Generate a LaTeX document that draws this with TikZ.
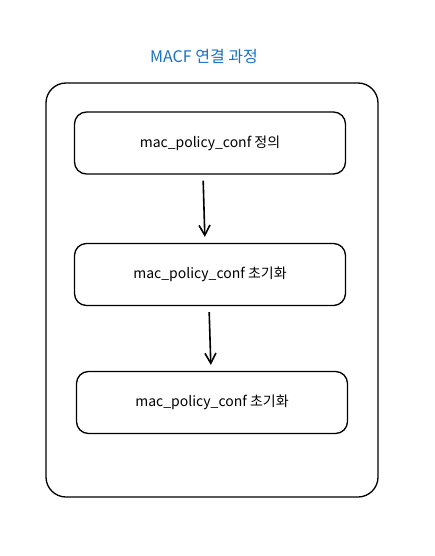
\documentclass[tikz,border=0pt]{standalone}
\usepackage{fontspec}
\newfontfamily\kr{Noto Sans CJK KR}
\usetikzlibrary{arrows.meta}
\definecolor{titleblue}{HTML}{1971C2}
\tikzset{
  stepbox/.style={draw, line width=1.3pt, rounded corners=12pt, minimum width=271pt, minimum height=62pt, font=\kr\fontsize{14}{16}\selectfont},
  flow/.style={line width=1.6pt, -{Straight Barb[length=10pt,width=11pt]}, shorten <=6pt, shorten >=6pt}
}
\begin{document}
\begin{tikzpicture}[x=1pt,y=-1pt]
\useasboundingbox (0,0) rectangle (435,556);

% Title
\node[text=titleblue, font=\kr\fontsize{16}{18}\selectfont] (title) at (204,57) {MACF 연결 과정};
% Outer frame
\node[draw, line width=1.3pt, rounded corners=20pt, minimum width=332pt, minimum height=414pt] (frame) at (212,290) {};
% Steps
\node[stepbox] (def) at (210,143) {mac\_policy\_conf 정의};
\node[stepbox] (initA) at (210,274.5) {mac\_policy\_conf 초기화};
\node[stepbox] (initB) at (212,402.5) {mac\_policy\_conf 초기화};
% Arrows
\draw[flow] ([xshift=-7pt]def.south) -- ([xshift=-5pt]initA.north);
\draw[flow] ([xshift=-1pt]initA.south) -- ([xshift=-1pt]initB.north);

\end{tikzpicture}
\end{document}
